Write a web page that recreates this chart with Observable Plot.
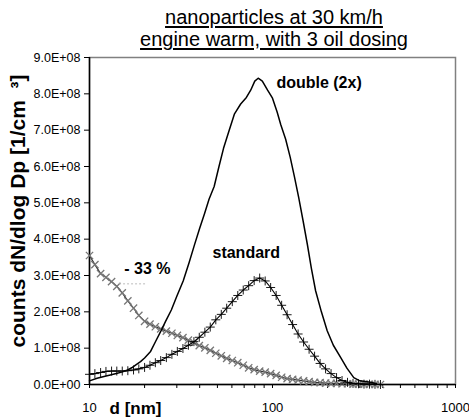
<!DOCTYPE html>
<html>
<head>
<meta charset="utf-8">
<script src="https://cdn.jsdelivr.net/npm/d3@7"></script>
<script src="https://cdn.jsdelivr.net/npm/@observablehq/plot@0.6"></script>
<style>
  body { margin: 0; background: #fff; }
  #wrap { position: relative; width: 469px; height: 420px; }
  #wrap svg { display: block; }
  .title {
    position: absolute; left: 91px; width: 366px; text-align: center;
    font-family: 'Liberation Sans', Arial, Helvetica, sans-serif; font-size: 20px; line-height: 21px;
    color: black; text-decoration: underline; text-decoration-thickness: 1.5px; text-underline-offset: 2px;
    white-space: nowrap;
  }
</style>
</head>
<body>
<div id="wrap"></div>
<script>
// ---- data ----
const titleLines = ["nanoparticles at 30 km/h", "engine warm, with 3 oil dosing"];
const yAxisTitle = "counts dN/dlog Dp [1/cm  \u00B3]";
const xAxisTitle = "d [nm]";

const yTicks = [0, 1e8, 2e8, 3e8, 4e8, 5e8, 6e8, 7e8, 8e8, 9e8];
const yTickLabels = ["0.0E+00", "1.0E+08", "2.0E+08", "3.0E+08", "4.0E+08", "5.0E+08", "6.0E+08", "7.0E+08", "8.0E+08", "9.0E+08"];
const xTicks = [10, 100, 1000];
const xTickLabels = ["10", "100", "1000"];
const xMinorTicks = [20, 30, 40, 50, 60, 70, 80, 90, 200, 300, 400, 500, 600, 700, 800, 900];

// double (2x): smooth line
const doubleD = [10, 11, 12, 13, 14, 15, 16, 17, 18, 19, 20, 21.5, 23, 24.5, 26, 28, 30, 32.5, 35, 37.5, 40, 42.5, 45, 48, 51, 54, 58, 62, 67, 72, 76, 80, 83.5, 88, 94, 100, 106, 111, 118, 125, 132, 139, 147, 155, 163, 172, 185, 199, 215, 236, 255, 278, 300, 343, 370];
const doubleN = [0.10, 0.17, 0.22, 0.26, 0.30, 0.34, 0.39, 0.46, 0.55, 0.63, 0.73, 0.90, 1.19, 1.46, 1.73, 2.05, 2.43, 2.85, 3.35, 3.85, 4.30, 4.70, 5.10, 5.45, 6.00, 6.50, 7.00, 7.45, 7.72, 7.90, 8.10, 8.35, 8.43, 8.35, 8.10, 7.88, 7.50, 7.15, 6.75, 6.25, 5.70, 5.15, 4.50, 3.86, 3.20, 2.58, 2.00, 1.48, 1.08, 0.74, 0.45, 0.19, 0.10, 0.06, 0.02]; // x 1E+08

// measured channels for "standard" and "- 33 %"
const channelD = [10, 10.7, 11.5, 12.3, 13.2, 14.1, 15.1, 16.2, 17.4, 18.6, 20.0, 21.4, 22.9, 24.5, 26.3, 28.2, 30.2, 32.4, 34.7, 37.2, 39.8, 42.7, 45.7, 49.0, 52.5, 56.2, 60.3, 64.6, 69.2, 74.1, 79.4, 85.1, 91.2, 97.7, 104.7, 112.2, 120.2, 128.8, 138.0, 147.9, 158.5, 169.8, 182.0, 195.0, 208.9, 223.9, 239.9, 257.0, 275.4, 295.1, 316.2, 338.8, 363.1, 389.0];
const standardN = [0.28, 0.30, 0.33, 0.36, 0.37, 0.37, 0.37, 0.38, 0.40, 0.43, 0.47, 0.53, 0.60, 0.66, 0.74, 0.83, 0.91, 0.99, 1.08, 1.18, 1.30, 1.44, 1.58, 1.78, 1.93, 2.10, 2.28, 2.45, 2.60, 2.72, 2.86, 2.93, 2.85, 2.67, 2.45, 2.18, 1.92, 1.65, 1.39, 1.17, 0.97, 0.78, 0.58, 0.43, 0.30, 0.19, 0.11, 0.06, 0.03, 0.02, 0.01, 0.01, 0.005, 0.0];
const minus33N = [3.55, 3.30, 3.05, 2.95, 2.83, 2.70, 2.52, 2.30, 2.10, 1.90, 1.74, 1.66, 1.59, 1.53, 1.47, 1.41, 1.35, 1.29, 1.22, 1.15, 1.07, 1.01, 0.94, 0.86, 0.79, 0.72, 0.66, 0.60, 0.53, 0.46, 0.41, 0.37, 0.34, 0.30, 0.25, 0.20, 0.16, 0.14, 0.12, 0.10, 0.08, 0.06, 0.05, 0.04, 0.03, 0.03, 0.02, 0.02, 0.01, 0.01, 0.01, 0.005, 0.005, 0.0];

const seriesLabels = ["double (2x)", "standard", "- 33 %"];
const labelD = [105, 47, 15.5];
const labelN = [8.31, 3.63, 3.19]; // x 1E+08
const leaderD = [14.6, 20.7];
const leaderN = 2.77;

// ---- tables ----
const scale = 1e8;
const doubleData = doubleD.map((d, i) => ({d, n: doubleN[i] * scale}));
const standardData = channelD.map((d, i) => ({d, n: standardN[i] * scale}));
const minus33Data = channelD.map((d, i) => ({d, n: minus33N[i] * scale}));
const labels = seriesLabels.map((t, i) => ({t, d: labelD[i], n: labelN[i] * scale}));

const font = "'Liberation Sans', Arial, Helvetica, sans-serif";

const chart = Plot.plot({
  width: 469,
  height: 420,
  marginTop: 57,
  marginBottom: 36,
  marginLeft: 89,
  marginRight: 14,
  style: {fontFamily: font, fontSize: "13px", color: "black", background: "white"},
  x: {type: "log", domain: [10, 1000]},
  y: {domain: [0, 9e8]},
  marks: [
    Plot.frame({stroke: "#808080", strokeWidth: 1.5}),
    // axes
    Plot.axisY(yTicks, {anchor: "left", tickSize: 5, tickPadding: 4, fontSize: 12.5, label: null,
      tickFormat: d => yTickLabels[yTicks.indexOf(d)]}),
    Plot.axisX(xTicks, {anchor: "bottom", tickSize: 4, tickPadding: 14, fontSize: 13, label: null,
      tickFormat: d => xTickLabels[xTicks.indexOf(d)]}),
    Plot.axisX(xMinorTicks, {anchor: "bottom", tickSize: 4, label: null, tickFormat: () => ""}),
    Plot.ruleX([10], {stroke: "black", strokeWidth: 1.5}),
    Plot.ruleY([0], {stroke: "black", strokeWidth: 1.5}),
    // series
    Plot.line(minus33Data, {x: "d", y: "n", stroke: "#333", strokeWidth: 1.2}),
    Plot.dot(minus33Data, {x: "d", y: "n", symbol: "times", r: 3.4, stroke: "#777", strokeWidth: 1.3}),
    Plot.line(standardData, {x: "d", y: "n", stroke: "black", strokeWidth: 1.1}),
    Plot.dot(standardData, {x: "d", y: "n", symbol: "plus", r: 3, stroke: "black", strokeWidth: 0.9}),
    Plot.line(doubleData, {x: "d", y: "n", stroke: "black", strokeWidth: 1.5}),
    // annotations
    Plot.ruleY([leaderN * scale], {x1: leaderD[0], x2: leaderD[1], stroke: "#bbb", strokeWidth: 1, strokeDasharray: "2,2"}),
    Plot.text(labels, {x: "d", y: "n", text: "t", textAnchor: "start", fontWeight: "bold", fontSize: 16, fill: "black"}),
    // axis titles
    Plot.text([yAxisTitle], {frameAnchor: "left", rotate: -90, textAnchor: "middle", dx: -71, dy: -10, lineAnchor: "middle", fontSize: 21, fontWeight: "bold", fill: "black"}),
    Plot.text([xAxisTitle], {frameAnchor: "bottom", dx: -137, dy: 24, lineAnchor: "middle", fontSize: 17, fontWeight: "bold", fill: "black"})
  ]
});
const wrap = document.getElementById("wrap");
wrap.appendChild(chart);
titleLines.forEach((line, i) => {
  const div = document.createElement("div");
  div.className = "title";
  div.style.top = (7 + i * 22) + "px";
  div.textContent = line;
  wrap.appendChild(div);
});
</script>
</body>
</html>
